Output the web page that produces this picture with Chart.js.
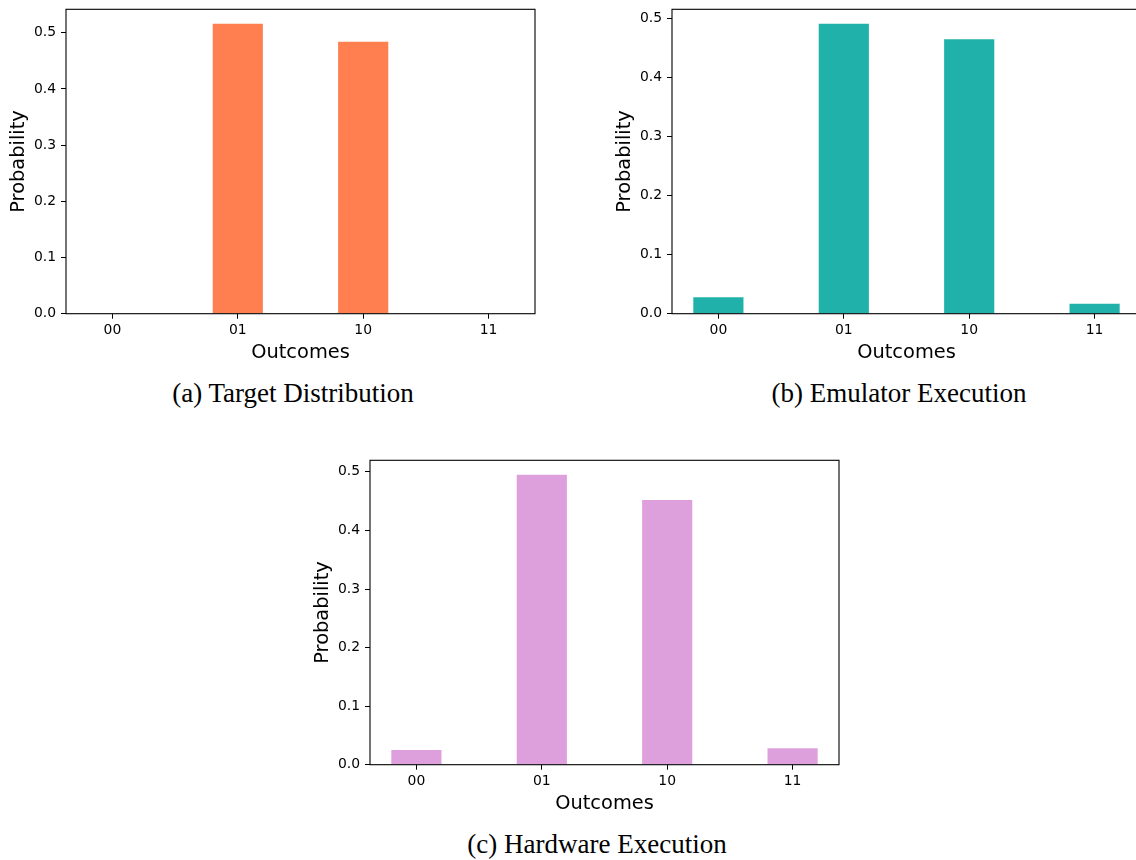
<!DOCTYPE html>
<html>
<head>
<meta charset="utf-8">
<script src="https://cdn.jsdelivr.net/npm/chart.js@4.4.1/dist/chart.umd.min.js"></script>
<style>
  html, body { margin: 0; padding: 0; background: #fff; }
  body { width: 1136px; height: 860px; overflow: hidden; position: relative; }
  .panel { position: absolute; width: 560px; height: 370px; }
  .panel canvas { display: block; }
  .caption {
    position: absolute;
    font-family: "Liberation Serif", "DejaVu Serif", serif;
    font-size: 27px;
    line-height: 27px;
    white-space: nowrap;
    transform: translateX(-50%);
    color: #000;
  }
</style>
</head>
<body>
<div class="panel" style="left:0px;top:0px"><canvas id="chartTarget" width="560" height="370"></canvas></div>
<div class="panel" style="left:606px;top:0px"><canvas id="chartEmulator" width="560" height="370"></canvas></div>
<div class="panel" style="left:304px;top:451px"><canvas id="chartHardware" width="560" height="370"></canvas></div>

<div class="caption" style="left:293px;top:380px">(a) Target Distribution</div>
<div class="caption" style="left:899px;top:380px">(b) Emulator Execution</div>
<div class="caption" style="left:597px;top:831px">(c) Hardware Execution</div>

<script>
// Measured two-qubit outcome probabilities
const outcomes = ['00', '01', '10', '11'];
const targetProb = [0, 0.516, 0.484, 0];
const emulatorProb = [0.028, 0.491, 0.465, 0.017];
const hardwareProb = [0.025, 0.495, 0.452, 0.028];
const probTicks = [0, 0.1, 0.2, 0.3, 0.4, 0.5];

const tickFont = { family: '"DejaVu Sans", sans-serif', size: 13.9 };
const labelFont = { family: '"DejaVu Sans", sans-serif', size: 19.4, lineHeight: 1.2 };

// Full box around the plotting area (all four spines)
const framePlugin = {
  id: 'frame',
  afterDatasetsDraw(chart) {
    const { ctx, chartArea: a } = chart;
    ctx.save();
    ctx.strokeStyle = '#000';
    ctx.lineWidth = 1.1;
    ctx.strokeRect(a.left, a.top, a.right - a.left, a.bottom - a.top);
    ctx.restore();
  }
};

function makeChart(id, values, color) {
  const yMax = Math.max(...values) * 1.05;
  return new Chart(document.getElementById(id), {
    type: 'bar',
    data: {
      datasets: [{
        data: outcomes.map((o, i) => ({ x: i, y: values[i] })),
        backgroundColor: color,
        borderWidth: 0,
        barPercentage: 0.4,
        categoryPercentage: 1.0
      }]
    },
    options: {
      responsive: false,
      animation: false,
      events: [],
      layout: { padding: { top: 9.3, right: 25, bottom: 0, left: 0 } },
      plugins: { legend: { display: false }, tooltip: { enabled: false } },
      scales: {
        x: {
          type: 'linear',
          offset: false,
          min: -0.37,
          max: outcomes.length - 1 + 0.37,
          afterFit(scale) {
            scale.height = 56.3;
            scale.paddingLeft = 0;
            scale.paddingRight = 0;
          },
          afterBuildTicks(scale) { scale.ticks = outcomes.map((o, i) => ({ value: i })); },
          ticks: {
            font: tickFont,
            color: '#000',
            padding: 3.5,
            maxRotation: 0,
            autoSkip: false,
            callback: (v) => outcomes[v] ?? ''
          },
          grid: { offset: false, drawOnChartArea: false, drawTicks: true, tickLength: 5, tickWidth: 1, tickColor: '#000' },
          border: { display: false },
          title: { display: true, text: 'Outcomes', font: labelFont, color: '#000', padding: { top: 0, bottom: 5.8 } }
        },
        y: {
          type: 'linear',
          min: 0,
          max: yMax,
          afterFit(scale) {
            scale.width = 66;
            scale.paddingTop = 0;
            scale.paddingBottom = 0;
          },
          afterBuildTicks(scale) { scale.ticks = probTicks.filter(t => t <= yMax).map(t => ({ value: t })); },
          ticks: {
            font: tickFont,
            color: '#000',
            padding: 5,
            callback: (v) => v.toFixed(1)
          },
          grid: { drawOnChartArea: false, drawTicks: true, tickLength: 5, tickWidth: 1, tickColor: '#000' },
          border: { display: false },
          title: { display: true, text: 'Probability', font: labelFont, color: '#000', padding: { top: 7.6, bottom: 0 } }
        }
      }
    },
    plugins: [framePlugin]
  });
}

makeChart('chartTarget', targetProb, '#FF7F50');
makeChart('chartEmulator', emulatorProb, '#20B2AA');
makeChart('chartHardware', hardwareProb, '#DDA0DD');
</script>
</body>
</html>
